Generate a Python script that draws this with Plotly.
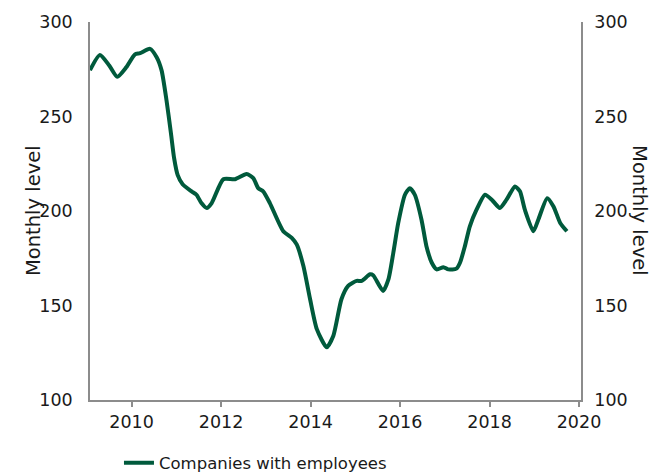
import plotly.graph_objects as go

# (decimal year, monthly level)
years = [2009.07, 2009.29, 2009.50, 2009.68, 2009.88, 2010.07, 2010.19, 2010.41, 2010.56,
         2010.67, 2010.78, 2010.88, 2010.95, 2011.03, 2011.14, 2011.34, 2011.45, 2011.56,
         2011.68, 2011.79, 2012.05, 2012.31, 2012.57, 2012.72, 2012.83, 2012.94, 2013.09,
         2013.39, 2013.58, 2013.69, 2013.84, 2013.99, 2014.14, 2014.36, 2014.51, 2014.69,
         2014.84, 2015.03, 2015.14, 2015.33, 2015.40, 2015.62, 2015.74, 2015.85, 2015.96,
         2016.11, 2016.22, 2016.33, 2016.48, 2016.59, 2016.71, 2016.82, 2016.97, 2017.08,
         2017.26, 2017.34, 2017.45, 2017.56, 2017.71, 2017.90, 2018.05, 2018.23, 2018.38,
         2018.57, 2018.68, 2018.79, 2018.98, 2019.09, 2019.29, 2019.43, 2019.58, 2019.73]
levels = [274.5, 282.5, 277.0, 271.0, 276.0, 282.8, 283.5, 285.8, 281.4,
          274.4, 258.6, 241.0, 228.0, 219.0, 214.2, 210.4, 208.6, 204.2,
          201.6, 204.2, 216.8, 216.8, 219.6, 217.4, 212.1, 210.4, 204.2,
          189.3, 185.8, 182.3, 170.9, 153.3, 137.5, 127.9, 134.0, 153.3,
          160.4, 163.0, 163.0, 166.5, 166.0, 157.7, 163.8, 177.9, 193.7,
          208.6, 212.1, 208.6, 195.4, 181.4, 172.6, 169.1, 170.3, 169.1,
          169.5, 172.6, 181.4, 191.9, 200.7, 208.6, 206.0, 201.6, 206.0,
          213.0, 210.4, 200.7, 189.3, 195.4, 206.8, 202.4, 193.7, 189.3]

series_name = "Companies with employees"
axis_title = "Monthly level"
x_ticks = [2010, 2012, 2014, 2016, 2018, 2020]
y_ticks = [100, 150, 200, 250, 300]

GREEN = "#005a3c"
AXIS = "#8c8c8c"
FONT = "DejaVu Sans"

fig = go.Figure()
fig.add_trace(go.Scatter(
    x=years, y=levels, mode="lines", name=series_name,
    line=dict(color=GREEN, width=4, shape="spline", smoothing=0.6),
))
# empty trace so the right-hand axis is drawn
fig.add_trace(go.Scatter(x=[], y=[], yaxis="y2", showlegend=False, hoverinfo="skip"))

fig.update_layout(
    width=666, height=473,
    margin=dict(l=82, r=93, t=14, b=81, autoexpand=False),
    paper_bgcolor="white", plot_bgcolor="white",
    font=dict(family=FONT, size=17.5, color="#1a1a1a"),
    showlegend=True,
    legend=dict(orientation="h", x=0.059, xanchor="left", y=-0.167, yanchor="middle",
                font=dict(size=16.5), bgcolor="rgba(0,0,0,0)"),
    xaxis=dict(range=[2009.07, 2020.045], tickvals=x_ticks, ticktext=[str(t) for t in x_ticks],
               showgrid=False, zeroline=False, showline=True, linecolor=AXIS, linewidth=1.5,
               ticks="outside", ticklen=5, tickcolor=AXIS, tickwidth=1.5),
    yaxis=dict(range=[100, 300], tickvals=y_ticks, showgrid=False, zeroline=False,
               showline=True, linecolor=AXIS, linewidth=1.5, ticks="", ticklabelstandoff=12),
    yaxis2=dict(range=[100, 300], tickvals=y_ticks, overlaying="y", side="right",
                showgrid=False, zeroline=False, showline=True, linecolor=AXIS, linewidth=1.5,
                ticks="", ticklabelstandoff=8),
    annotations=[
        dict(text=axis_title, xref="paper", yref="paper", x=-0.116, y=0.5,
             xanchor="center", yanchor="middle", textangle=-90, showarrow=False,
             font=dict(size=19.5)),
        dict(text=axis_title, xref="paper", yref="paper", x=1.12, y=0.5,
             xanchor="center", yanchor="middle", textangle=90, showarrow=False,
             font=dict(size=19.5)),
    ],
)

fig.write_html("out.html")
